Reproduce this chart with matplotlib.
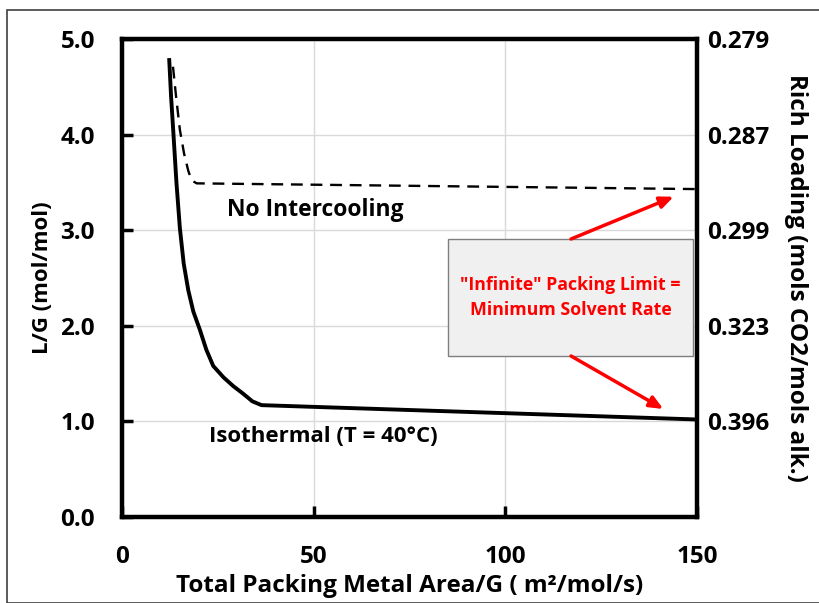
import matplotlib
matplotlib.use("Agg")
import matplotlib.pyplot as plt
from matplotlib.patches import Rectangle

plt.rcParams['font.family'] = ['Open Sans', 'DejaVu Sans']
plt.rcParams['font.weight'] = 'bold'

# Isothermal (T = 40°C)
iso_x = [12.3, 12.8, 13.4, 14.2, 15.1, 16.1, 17.3, 18.6, 20.3, 22.0, 23.8, 26.5, 29.0, 31.6, 34.0, 36.4, 150.0]
iso_y = [4.80, 4.40, 4.02, 3.50, 3.02, 2.65, 2.37, 2.15, 1.96, 1.75, 1.58, 1.46, 1.37, 1.29, 1.21, 1.17, 1.02]

# No Intercooling
noi_x = [13.3, 14.1, 15.1, 16.2, 17.3, 18.2, 19.5, 150.0]
noi_y = [4.71, 4.40, 4.05, 3.80, 3.62, 3.52, 3.49, 3.43]

y_ticks = [0.0, 1.0, 2.0, 3.0, 4.0, 5.0]
x_ticks = [0, 50, 100, 150]
right_tick_pos = [1.0, 2.0, 3.0, 4.0, 5.0]
right_tick_labels = ["0.396", "0.323", "0.299", "0.287", "0.279"]

W, H = 819, 603
fig = plt.figure(figsize=(W / 100, H / 100), dpi=100)
ax = fig.add_axes([122 / W, 1 - 517 / H, (697 - 122) / W, (517 - 39) / H])

# figure border
fig.patches.append(Rectangle((7 / W, 0), 1.0, 1 - 10 / H, transform=fig.transFigure,
                             fill=False, edgecolor='#404040', linewidth=1.2))

ax.plot(iso_x, iso_y, color='black', linewidth=2.8, solid_capstyle='butt')
ax.plot(noi_x, noi_y, color='black', linewidth=1.7, linestyle=(0, (5, 3.3)))

ax.set_xlim(0, 150)
ax.set_ylim(0, 5)
ax.set_xticks(x_ticks)
ax.set_yticks(y_ticks)
ax.set_yticklabels([f"{v:.1f}" for v in y_ticks])
ax.grid(True, color='#d9d9d9', linewidth=1.0)
ax.set_axisbelow(True)
for s in ax.spines.values():
    s.set_linewidth(3.2)
ax.tick_params(axis='both', direction='in', length=8, width=2.5, labelsize=17.5)
ax.tick_params(axis='y', pad=19.5)
ax.tick_params(axis='x', pad=20)
for lab in ax.get_xticklabels() + ax.get_yticklabels():
    lab.set_fontweight('bold')

ax.set_xlabel("Total Packing Metal Area/G ( m²/mol/s)", fontsize=17.5,
              fontweight='bold', labelpad=4)
ax.set_ylabel("L/G (mol/mol)", fontsize=16, fontweight='bold', labelpad=5)

ax2 = ax.twinx()
ax2.set_ylim(0, 5)
ax2.set_yticks(right_tick_pos)
ax2.set_yticklabels(right_tick_labels)
ax2.tick_params(axis='y', length=0, labelsize=17.5, pad=7)
for lab in ax2.get_yticklabels():
    lab.set_fontweight('bold')
for s in ax2.spines.values():
    s.set_visible(False)
ax2.set_ylabel("Rich Loading (mols CO2/mols alk.)", fontsize=17.5, fontweight='bold',
               rotation=270, labelpad=28)

ax.text(50.5, 3.21, "No Intercooling", fontsize=16.5, fontweight='bold',
        ha='center', va='center')
ax.text(52.5, 0.84, "Isothermal (T = 40°C)", fontsize=16, fontweight='bold',
        ha='center', va='center')

# annotation box
bx0, bx1 = (448 - 122) / 3.833, (693 - 122) / 3.833
by0, by1 = (517 - 356) / 95.6, (517 - 239) / 95.6
ax.add_patch(Rectangle((bx0, by0), bx1 - bx0, by1 - by0, facecolor='#f0f0f0',
                       edgecolor='#7f7f7f', linewidth=1.0, zorder=4))
ax.text((bx0 + bx1) / 2, (by0 + by1) / 2, "\"Infinite\" Packing Limit =\nMinimum Solvent Rate",
        color='#ff0000', fontsize=12.8, fontweight='bold', ha='center', va='center',
        linespacing=1.45, zorder=5)
ax_mid = (571 - 122) / 3.833
ax.annotate("", xy=(143.9, 3.35), xytext=(ax_mid, by1),
            arrowprops=dict(arrowstyle='-|>,head_length=0.8,head_width=0.35',
                            color='#ff0000', lw=2.5, shrinkA=0, shrinkB=0), zorder=5)
ax.annotate("", xy=(141.2, 1.13), xytext=(ax_mid, by0),
            arrowprops=dict(arrowstyle='-|>,head_length=0.8,head_width=0.35',
                            color='#ff0000', lw=2.5, shrinkA=0, shrinkB=0), zorder=5)

fig.savefig("out.png", dpi=100)
